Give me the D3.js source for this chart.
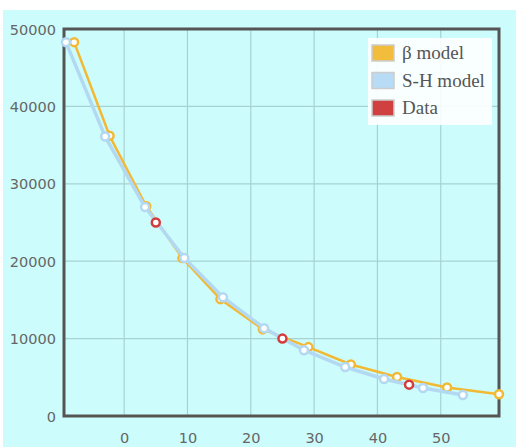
<!DOCTYPE html>
<html><head><meta charset="utf-8">
<script src="https://cdn.jsdelivr.net/npm/d3@7"></script>
<style>body{margin:0;background:#fff}svg{display:block}</style>
</head><body>
<script>
const xTicks = [0, 10, 20, 30, 40, 50];
const yTicks = [0, 10000, 20000, 30000, 40000, 50000];
const seriesNames = ["β model", "S-H model", "Data"];
const betaX = [-7.9, -2.3, 3.5, 9.2, 15.2, 21.9, 29.1, 35.8, 43.1, 51.0, 59.2];
const betaY = [48300, 36200, 27100, 20400, 15100, 11200, 8900, 6650, 5040, 3680, 2800];
const shX = [-9.2, -3.0, 3.3, 9.5, 15.6, 22.1, 28.4, 34.9, 41.05, 47.2, 53.5];
const shY = [48300, 36100, 27000, 20400, 15350, 11350, 8500, 6330, 4780, 3620, 2710];
const dataX = [5, 25, 45];
const dataY = [25000, 10000, 4050];

const W = 519, H = 447;
const L = 64, T = 29, R = 499, B = 416;
const svg = d3.select("body").append("svg").attr("width", W).attr("height", H);
svg.append("rect").attr("x", 3).attr("y", 10).attr("width", 513).attr("height", 437).attr("fill", "#ccfcfc");

const x = d3.scaleLinear().domain([-9.5, 59.2]).range([L, R]);
const y = d3.scaleLinear().domain([0, 50000]).range([B, T]);

// grid
svg.append("g").selectAll("line").data(xTicks).join("line")
  .attr("x1", d => x(d)).attr("x2", d => x(d)).attr("y1", T).attr("y2", B)
  .attr("stroke", "#a8d2d2").attr("stroke-width", 1.2);
svg.append("g").selectAll("line").data(yTicks.filter(d => d > 0 && d < 50000)).join("line")
  .attr("x1", L).attr("x2", R).attr("y1", d => y(d)).attr("y2", d => y(d))
  .attr("stroke", "#a8d2d2").attr("stroke-width", 1.2);

// axes labels
const fmt = d3.format("d");
const xAxis = d3.axisBottom(x).tickValues(xTicks).tickFormat(fmt).tickSize(0).tickPadding(0);
const gx = svg.append("g").attr("transform", `translate(0,${B})`).call(xAxis);
gx.select(".domain").remove();
gx.selectAll("text").attr("dy", null).attr("y", 27).attr("fill", "#666")
  .style("font-family", "DejaVu Sans").style("font-size", "14.5px");
const yAxis = d3.axisLeft(y).tickValues(yTicks).tickFormat(fmt).tickSize(0).tickPadding(0);
const gy = svg.append("g").attr("transform", `translate(${L},0)`).call(yAxis);
gy.select(".domain").remove();
gy.selectAll("text").attr("x", -8).attr("dy", "0.35em").attr("fill", "#666")
  .style("font-family", "DejaVu Sans").style("font-size", "14.5px");

// frame
svg.append("rect").attr("x", L).attr("y", T).attr("width", R - L).attr("height", B - T)
  .attr("fill", "none").attr("stroke", "#555").attr("stroke-width", 3);

const line = d3.line().x(d => x(d[0])).y(d => y(d[1]));
function series(xs, ys, color, lw) {
  const pts = xs.map((v, i) => [v, ys[i]]);
  const g = svg.append("g");
  g.append("path").datum(pts).attr("d", line).attr("fill", "none")
    .attr("stroke", color).attr("stroke-width", lw).attr("stroke-linejoin", "round");
  g.selectAll("circle").data(pts).join("circle")
    .attr("cx", d => x(d[0])).attr("cy", d => y(d[1])).attr("r", 4)
    .attr("fill", "#fff").attr("stroke", color).attr("stroke-width", 2.5);
}
series(betaX, betaY, "#f2b935", 2.5);
series(shX, shY, "#b3d9f2", 3.5);
const dpts = dataX.map((v, i) => [v, dataY[i]]);
svg.append("g").selectAll("circle").data(dpts).join("circle")
  .attr("cx", d => x(d[0])).attr("cy", d => y(d[1])).attr("r", 4)
  .attr("fill", "#fff").attr("stroke", "#d33c3c").attr("stroke-width", 2.5);

// legend
const colors = ["#f2bd3c", "#b8dcf5", "#d04040"];
const lg = svg.append("g");
lg.append("rect").attr("x", 368).attr("y", 38).attr("width", 124).attr("height", 87)
  .attr("fill", "#fff").attr("fill-opacity", 0.88);
seriesNames.forEach((n, i) => {
  const yy = 45 + i * 27.5;
  lg.append("rect").attr("x", 372).attr("y", yy).attr("width", 22).attr("height", 16)
    .attr("fill", colors[i]).attr("stroke", "#ccc").attr("stroke-width", 1.5);
  lg.append("text").attr("x", 402).attr("y", yy + 14).text(n)
    .attr("fill", "#555").style("font-family", "Liberation Serif").style("font-size", "19px");
});
</script>
</body></html>
